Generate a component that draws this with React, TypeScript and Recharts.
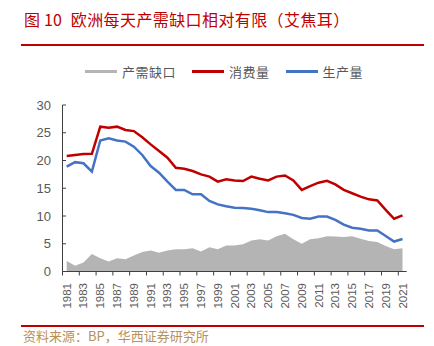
import { ComposedChart, Area, Line, XAxis, YAxis, Legend } from "recharts";

const years = [
  "1981", "1982", "1983", "1984", "1985", "1986", "1987", "1988", "1989", "1990",
  "1991", "1992", "1993", "1994", "1995", "1996", "1997", "1998", "1999", "2000",
  "2001", "2002", "2003", "2004", "2005", "2006", "2007", "2008", "2009", "2010",
  "2011", "2012", "2013", "2014", "2015", "2016", "2017", "2018", "2019", "2020",
  "2021",
];

const consumption = [
  20.8, 21.0, 21.15, 21.2, 26.1, 25.9, 26.1, 25.5, 25.3, 24.2,
  22.9, 21.7, 20.5, 18.7, 18.5, 18.1, 17.5, 17.1, 16.2, 16.6,
  16.4, 16.3, 17.1, 16.7, 16.4, 17.1, 17.3, 16.4, 14.7, 15.4,
  16.0, 16.35, 15.7, 14.7, 14.1, 13.5, 13.0, 12.8, 11.1, 9.5,
  10.1,
];

const production = [
  18.9, 19.7, 19.5, 18.0, 23.6, 24.0, 23.6, 23.4, 22.5, 21.0,
  19.0, 17.8, 16.2, 14.7, 14.7, 13.9, 13.9, 12.7, 12.1, 11.75,
  11.5, 11.45, 11.3, 11.05, 10.7, 10.7, 10.5, 10.2, 9.65, 9.5,
  9.9, 9.9, 9.3, 8.45, 7.9, 7.7, 7.4, 7.4, 6.4, 5.4,
  5.85,
];

const gap = [
  1.9, 1.05, 1.6, 3.15, 2.4, 1.8, 2.4, 2.2, 2.9, 3.5,
  3.8, 3.4, 3.8, 4.0, 4.0, 4.2, 3.6, 4.35, 4.0, 4.7,
  4.7, 4.9, 5.6, 5.8, 5.6, 6.35, 6.8, 5.8, 5.0, 5.8,
  6.0, 6.35, 6.3, 6.2, 6.35, 5.9, 5.5, 5.3, 4.6, 4.0,
  4.2,
];

const yTicks = [0, 5, 10, 15, 20, 25, 30];

const data = years.map((year, i) => ({
  year,
  gap: gap[i],
  consumption: consumption[i],
  production: production[i],
}));

const AXIS = "#404040";
const LABEL = "#595959";
const FONT = "'Liberation Sans', Arial, sans-serif";
const CJK = "'Noto Sans CJK SC', sans-serif";
const HALF_BAND = 4.2;

const XTick = (props: any) => {
  const { x, y, payload } = props;
  return (
    <g>
      <line x1={x - HALF_BAND} y1={y} x2={x - HALF_BAND} y2={y + 4} stroke={AXIS} />
      <text
        transform={`translate(${x}, ${y + 11.5}) rotate(-90)`}
        textAnchor="end"
        dominantBaseline="central"
        fontSize={11.5}
        fontFamily={FONT}
        fill={LABEL}
      >
        {payload.value}
      </text>
    </g>
  );
};

const YTick = (props: any) => {
  const { x, y, payload } = props;
  return (
    <g>
      <line x1={x + 11.5} y1={y} x2={x + 15} y2={y} stroke={AXIS} />
      <text
        x={x}
        y={y}
        textAnchor="end"
        dominantBaseline="central"
        fontSize={13}
        fontFamily={FONT}
        fill={LABEL}
      >
        {payload.value}
      </text>
    </g>
  );
};

const LegendContent = (props: any) => {
  const { payload } = props;
  return (
    <div style={{ display: "flex", alignItems: "center", paddingLeft: 85, fontFamily: CJK, fontSize: 13, color: LABEL, letterSpacing: 0.5 }}>
      {payload.map((entry: any, i: number) => (
        <div key={i} style={{ display: "flex", alignItems: "center", marginRight: 16 }}>
          <span
            style={{
              display: "inline-block",
              width: 32,
              height: entry.type === "rect" ? 5 : 2.5,
              background: entry.color,
              marginRight: 5,
            }}
          />
          <span>{entry.value}</span>
        </div>
      ))}
    </div>
  );
};

export default function App() {
  return (
    <div style={{ position: "absolute", left: 0, top: 0, width: 434, height: 346, background: "#fff" }}>
      <div
        style={{
          position: "absolute",
          left: 24,
          top: 9,
          lineHeight: "20px",
          fontSize: 16,
          fontFamily: CJK,
          color: "#c00000",
          whiteSpace: "nowrap",
        }}
      >
        <span>图</span>
        <span style={{ marginLeft: 4 }}>10</span>
        <span style={{ marginLeft: 9, letterSpacing: 0.4 }}>欧洲每天产需缺口相对有限（艾焦耳）</span>
      </div>
      <div style={{ position: "absolute", left: 21, top: 44, width: 403, height: 2, background: "#c00000" }} />

      <ComposedChart
        width={434}
        height={346}
        data={data}
        margin={{ top: 86, right: 27.3, left: 22.5, bottom: 34.5 }}
        style={{ position: "absolute", left: 0, top: 0 }}
      >
        <Legend
          verticalAlign="top"
          content={LegendContent}
          wrapperStyle={{ position: "absolute", top: 62, left: 0, width: 434 }}
          payload={[
            { value: "产需缺口", type: "rect", color: "#b4b4b4" },
            { value: "消费量", type: "line", color: "#c00000" },
            { value: "生产量", type: "line", color: "#4472c4" },
          ]}
        />
        <XAxis
          dataKey="year"
          interval={1}
          height={40}
          padding={{ left: HALF_BAND, right: HALF_BAND }}
          tickSize={0}
          tickMargin={0}
          tickLine={false}
          tick={<XTick />}
          axisLine={{ stroke: AXIS }}
        />
        <YAxis
          domain={[0, 30]}
          ticks={yTicks}
          width={40}
          tickSize={0}
          tickMargin={11.5}
          tickLine={false}
          tick={<YTick />}
          axisLine={{ stroke: AXIS }}
        />
        <Area
          type="linear"
          dataKey="gap"
          name="产需缺口"
          stroke="none"
          fill="#b4b4b4"
          fillOpacity={1}
          isAnimationActive={false}
        />
        <Line
          type="linear"
          dataKey="consumption"
          name="消费量"
          stroke="#c00000"
          strokeWidth={2.5}
          dot={false}
          isAnimationActive={false}
        />
        <Line
          type="linear"
          dataKey="production"
          name="生产量"
          stroke="#4472c4"
          strokeWidth={2.5}
          dot={false}
          isAnimationActive={false}
        />
      </ComposedChart>

      <div style={{ position: "absolute", left: 21, top: 325, width: 403, height: 2, background: "#c00000" }} />
      <div
        style={{
          position: "absolute",
          left: 23,
          top: 327,
          lineHeight: "18px",
          fontSize: 13,
          fontFamily: CJK,
          color: "#b8915a",
          whiteSpace: "nowrap",
        }}
      >
        资料来源：BP，华西证券研究所
      </div>
    </div>
  );
}
